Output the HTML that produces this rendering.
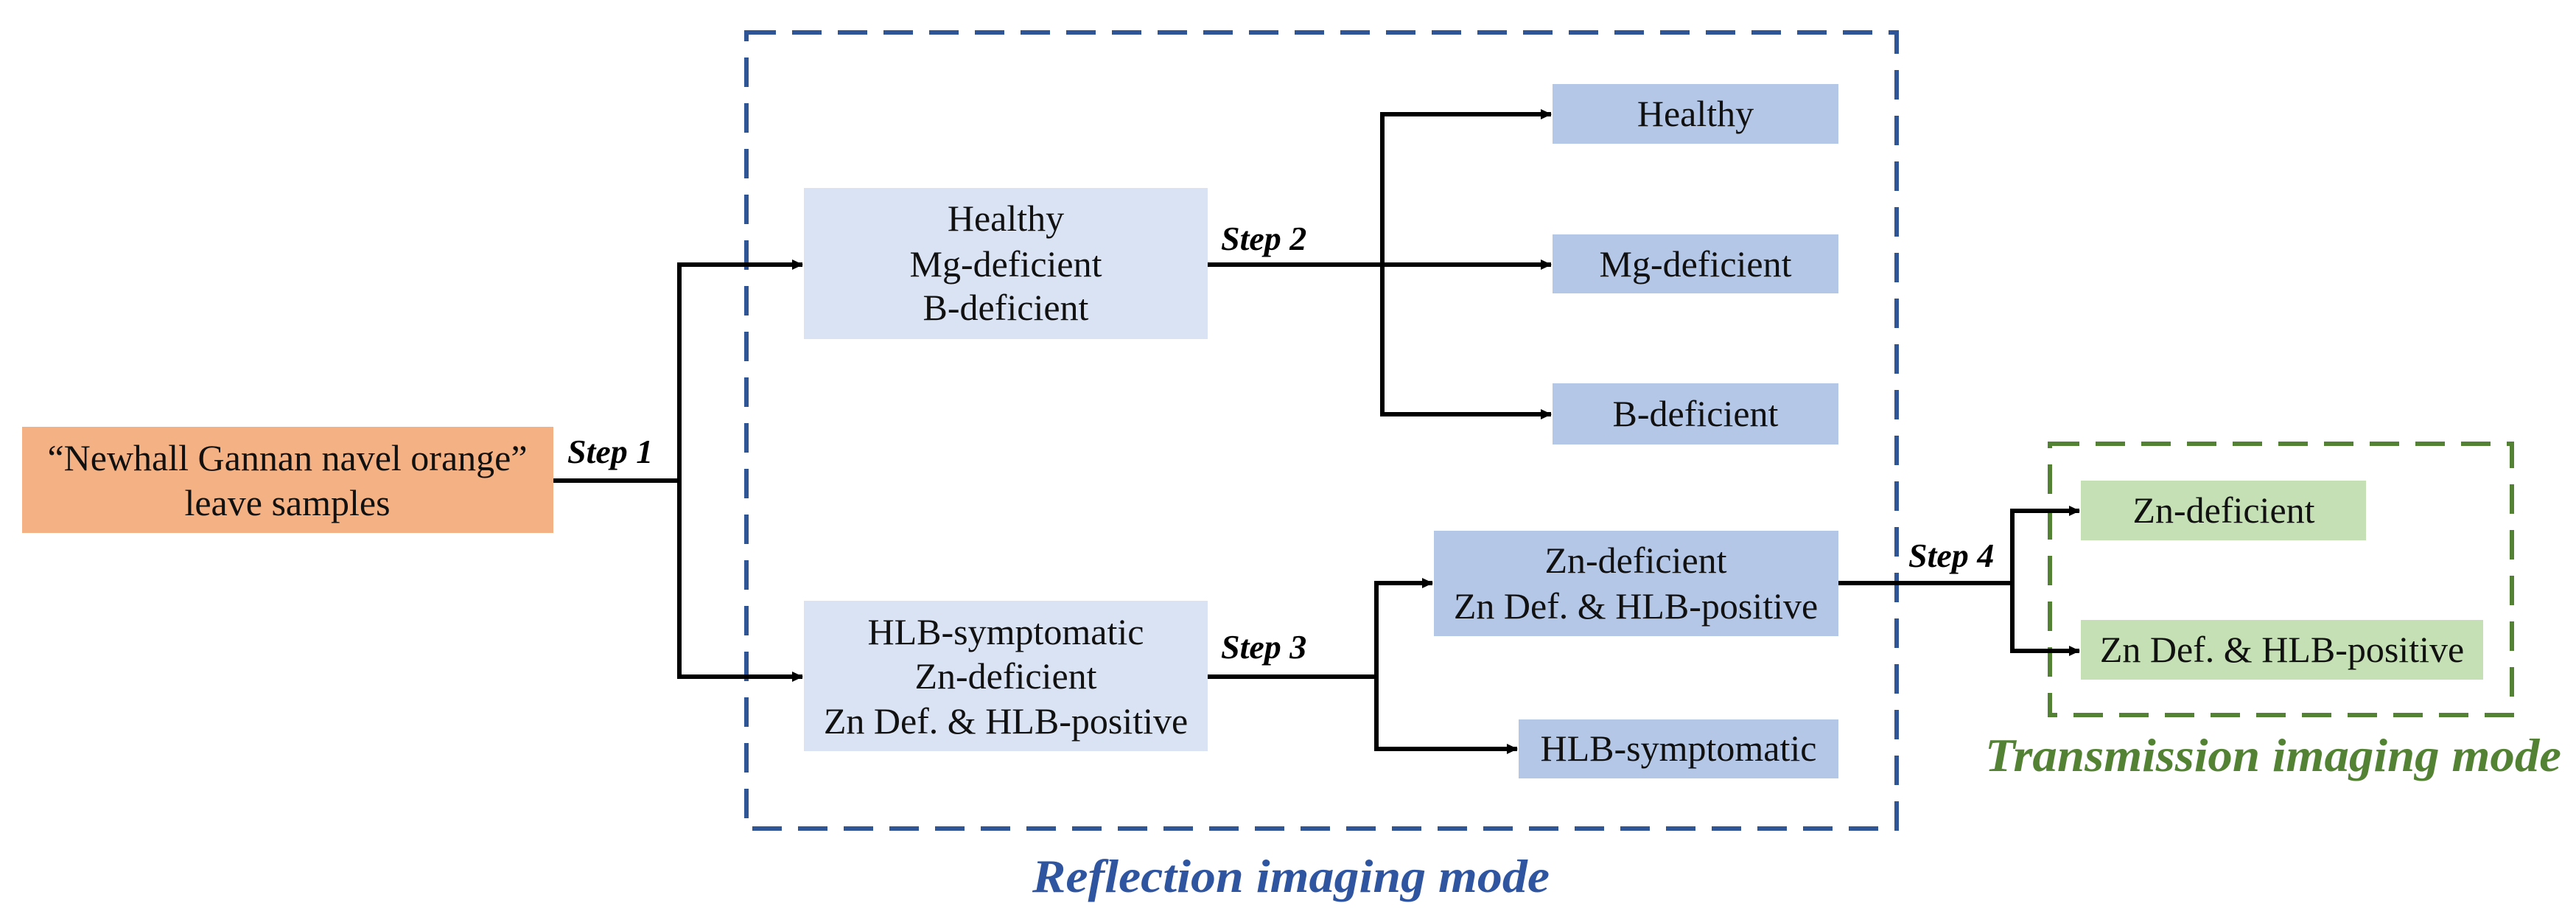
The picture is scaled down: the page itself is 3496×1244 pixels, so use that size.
<!DOCTYPE html>
<html><head><meta charset="utf-8"><style>
html,body{margin:0;padding:0;background:#fff}
svg{display:block}
text{font-family:"Liberation Serif",serif}
</style></head><body>
<svg width="3496" height="1244" viewBox="0 0 3496 1244" xmlns="http://www.w3.org/2000/svg">
<defs>
<marker id="a" markerWidth="16" markerHeight="16" refX="14" refY="8" orient="auto" markerUnits="userSpaceOnUse">
<path d="M0,1 L15,8 L0,15 Z" fill="#000"/>
</marker>
</defs>
<rect x="0" y="0" width="3496" height="1244" fill="#fff"/>
<!-- dashed containers -->
<rect x="1013" y="44" width="1561" height="1080" fill="none" stroke="#2f5597" stroke-width="6" stroke-dasharray="40,22"/>
<rect x="2782" y="602" width="627" height="368" fill="none" stroke="#548235" stroke-width="6" stroke-dasharray="40,22"/>
<!-- boxes -->
<rect x="30" y="579" width="721" height="144" fill="#f4b183"/>
<rect x="1091" y="255" width="548" height="205" fill="#dae3f3"/>
<rect x="1091" y="815" width="548" height="204" fill="#dae3f3"/>
<rect x="2107" y="114" width="388" height="81" fill="#b4c7e7"/>
<rect x="2107" y="318" width="388" height="80" fill="#b4c7e7"/>
<rect x="2107" y="520" width="388" height="83" fill="#b4c7e7"/>
<rect x="1946" y="720" width="549" height="143" fill="#b4c7e7"/>
<rect x="2061" y="976" width="434" height="80" fill="#b4c7e7"/>
<rect x="2824" y="652" width="387" height="81" fill="#c5e0b4"/>
<rect x="2824" y="841" width="546" height="81" fill="#c5e0b4"/>
<!-- connectors -->
<g stroke="#000" stroke-width="6" fill="none">
<line x1="751" y1="652" x2="922" y2="652"/>
<polyline points="1091,359 922,359 922,918 1091,918" stroke-width="0"/>
<line x1="922" y1="356" x2="922" y2="921"/>
<line x1="922" y1="359" x2="1089" y2="359" marker-end="url(#a)"/>
<line x1="922" y1="918" x2="1089" y2="918" marker-end="url(#a)"/>
<line x1="1639" y1="359" x2="2105" y2="359" marker-end="url(#a)"/>
<line x1="1876" y1="152" x2="1876" y2="565"/>
<line x1="1876" y1="155" x2="2105" y2="155" marker-end="url(#a)"/>
<line x1="1876" y1="562" x2="2105" y2="562" marker-end="url(#a)"/>
<line x1="1639" y1="918" x2="1868" y2="918"/>
<line x1="1868" y1="788" x2="1868" y2="1019"/>
<line x1="1868" y1="791" x2="1944" y2="791" marker-end="url(#a)"/>
<line x1="1868" y1="1016" x2="2059" y2="1016" marker-end="url(#a)"/>
<line x1="2495" y1="791" x2="2731" y2="791"/>
<line x1="2731" y1="690" x2="2731" y2="886"/>
<line x1="2731" y1="693" x2="2822" y2="693" marker-end="url(#a)"/>
<line x1="2731" y1="883" x2="2822" y2="883" marker-end="url(#a)"/>
</g>
<!-- box text -->
<g font-size="50" fill="#111" text-anchor="middle">
<text x="390" y="638">“Newhall Gannan navel orange”</text>
<text x="390" y="699">leave samples</text>
<text x="1365" y="313">Healthy</text>
<text x="1365" y="375">Mg-deficient</text>
<text x="1365" y="434">B-deficient</text>
<text x="1365" y="874">HLB-symptomatic</text>
<text x="1365" y="934">Zn-deficient</text>
<text x="1365" y="995">Zn Def. &amp; HLB-positive</text>
<text x="2301" y="171">Healthy</text>
<text x="2301" y="375">Mg-deficient</text>
<text x="2301" y="578">B-deficient</text>
<text x="2220" y="777">Zn-deficient</text>
<text x="2220" y="839">Zn Def. &amp; HLB-positive</text>
<text x="2278" y="1032">HLB-symptomatic</text>
<text x="3018" y="709">Zn-deficient</text>
<text x="3097" y="898">Zn Def. &amp; HLB-positive</text>
</g>
<!-- step labels -->
<g font-size="46" font-weight="bold" font-style="italic" fill="#000">
<text x="770" y="628">Step 1</text>
<text x="1657" y="339">Step 2</text>
<text x="1657" y="893">Step 3</text>
<text x="2590" y="769">Step 4</text>
</g>
<text x="1401" y="1210" font-size="64" font-weight="bold" font-style="italic" fill="#2f55a0" textLength="702" lengthAdjust="spacingAndGlyphs">Reflection imaging mode</text>
<text x="2694" y="1046" font-size="64" font-weight="bold" font-style="italic" fill="#548235" textLength="782" lengthAdjust="spacingAndGlyphs">Transmission imaging mode</text>
</svg>
</body></html>
